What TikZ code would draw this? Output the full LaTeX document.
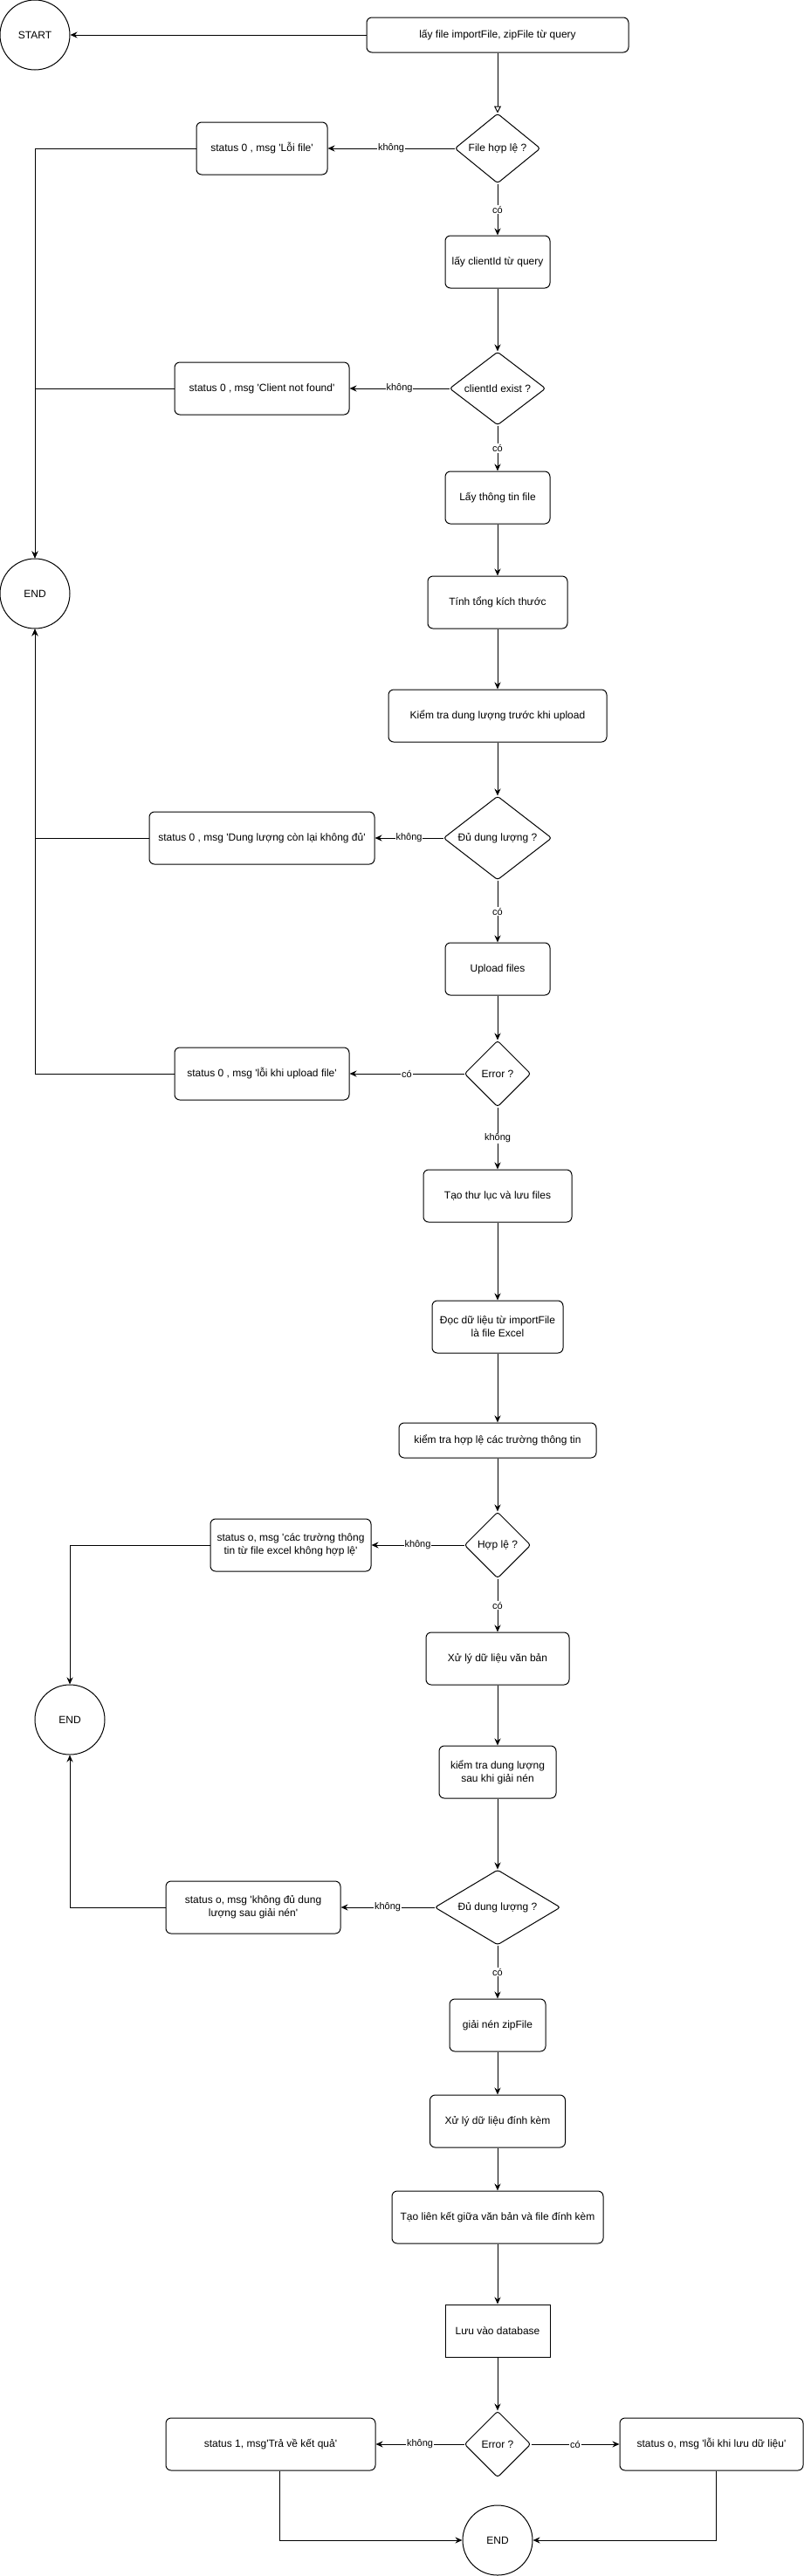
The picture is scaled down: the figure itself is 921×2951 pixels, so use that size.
\documentclass[tikz,border=0pt]{standalone}
\usepackage{fontspec}
\newfontfamily\arialf{Liberation Sans}
\usetikzlibrary{shapes.geometric,arrows.meta}
\tikzset{
 base/.style={draw, line width=1pt, inner sep=0pt, align=center, font=\arialf\fontsize{12}{15}\selectfont},
 box/.style={base, rectangle, rounded corners=6pt},
 sqbox/.style={base, rectangle},
 dec/.style={base, diamond, rounded corners=3pt},
 term/.style={base, circle, minimum size=80pt},
 lab/.style={fill=white, inner sep=1pt, font=\arialf\fontsize{11}{13}\selectfont},
 arr/.style={line width=1pt, -{Stealth[length=8pt,width=7pt]}},
 openarr/.style={line width=1pt, -{Triangle[open,length=8pt,width=8pt]}},
}
\begin{document}
\begin{tikzpicture}[x=1pt,y=-1pt]
\useasboundingbox (0,0) rectangle (921,2951);
% nodes
\node[term] (start) at (40,40) {START};
\node[box, minimum width=300pt, minimum height=40pt] (n1) at (570,40) {lấy file importFile, zipFile từ query};
\node[dec, minimum width=98pt, minimum height=80pt, aspect=1.225] (d1) at (570,170) {File hợp lệ ?};
\node[box, minimum width=150pt, minimum height=60pt] (e1) at (300,170) {status 0 , msg 'Lỗi file'};
\node[box, minimum width=120pt, minimum height=60pt] (n2) at (570,300) {lấy clientId từ query};
\node[dec, minimum width=110pt, minimum height=84pt, aspect=1.3] (d2) at (570,445) {clientId exist ?};
\node[box, minimum width=200pt, minimum height=60pt] (e2) at (300,445) {status 0 , msg 'Client not found'};
\node[box, minimum width=120pt, minimum height=60pt] (n3) at (570,570) {Lấy thông tin file};
\node[term] (end1) at (40,680) {END};
\node[box, minimum width=160pt, minimum height=60pt] (n4) at (570,690) {Tính tổng kích thước};
\node[box, minimum width=250pt, minimum height=60pt] (n5) at (570,820) {Kiểm tra dung lượng trước khi upload};
\node[dec, minimum width=124pt, minimum height=96pt, aspect=1.29] (d3) at (570,960) {Đủ dung lượng ?};
\node[box, minimum width=258pt, minimum height=60pt] (e3) at (300,960) {status 0 , msg 'Dung lượng còn lại không đủ'};
\node[box, minimum width=120pt, minimum height=60pt] (n6) at (570,1110) {Upload files};
\node[dec, minimum width=76pt, minimum height=76pt, aspect=1] (d4) at (570,1230) {Error ?};
\node[box, minimum width=200pt, minimum height=60pt] (e4) at (300,1230) {status 0 , msg 'lỗi khi upload file'};
\node[box, minimum width=170pt, minimum height=60pt] (n7) at (570,1370) {Tạo thư lục và lưu files};
\node[box, minimum width=150pt, minimum height=60pt] (n8) at (570,1520) {Đọc dữ liệu từ importFile\\là file Excel};
\node[box, minimum width=226pt, minimum height=40pt] (n9) at (570,1650) {kiểm tra hợp lệ các trường thông tin};
\node[dec, minimum width=76pt, minimum height=76pt, aspect=1] (d5) at (570,1770) {Hợp lệ ?};
\node[box, minimum width=184pt, minimum height=60pt] (e5) at (333,1770) {status o, msg 'các trường thông\\tin từ file excel không hợp lệ'};
\node[term] (end2) at (80,1970) {END};
\node[box, minimum width=164pt, minimum height=60pt] (n10) at (570,1900) {Xử lý dữ liệu văn bản};
\node[box, minimum width=134pt, minimum height=60pt] (n11) at (570,2030) {kiểm tra dung lượng\\sau khi giải nén};
\node[dec, minimum width=144pt, minimum height=86pt, aspect=1.67] (d6) at (570,2185) {Đủ dung lượng ?};
\node[box, minimum width=200pt, minimum height=60pt] (e6) at (290,2185) {status o, msg 'không đủ dung\\lượng sau giải nén'};
\node[box, minimum width=110pt, minimum height=60pt] (n12) at (570,2320) {giải nén zipFile};
\node[box, minimum width=155pt, minimum height=60pt] (n13) at (570,2430) {Xử lý dữ liệu đính kèm};
\node[box, minimum width=242pt, minimum height=60pt] (n14) at (570,2540) {Tạo liên kết giữa văn bản và file đính kèm};
\node[sqbox, minimum width=120pt, minimum height=60pt] (n15) at (570,2670) {Lưu vào database};
\node[dec, minimum width=76pt, minimum height=76pt, aspect=1] (d7) at (570,2800) {Error ?};
\node[box, minimum width=240pt, minimum height=60pt] (e7) at (310,2800) {status 1, msg'Trả về kết quả'};
\node[box, minimum width=210pt, minimum height=60pt] (e8) at (815,2800) {status o, msg 'lỗi khi lưu dữ liệu'};
\node[term] (end3) at (570,2910) {END};
% edges
\draw[arr] (n1) -- (start);
\draw[openarr] (n1) -- (d1);
\draw[arr] (d1) -- node[lab]{không} (e1);
\draw[arr] (d1) -- node[lab]{có} (n2);
\draw[arr] (e1.west) -| (end1.north);
\draw[arr] (n2) -- (d2);
\draw[arr] (d2) -- node[lab]{không} (e2);
\draw[arr] (e2.west) -| (end1.north);
\draw[arr] (d2) -- node[lab]{có} (n3);
\draw[arr] (n3) -- (n4);
\draw[arr] (n4) -- (n5);
\draw[arr] (n5) -- (d3);
\draw[arr] (d3) -- node[lab]{không} (e3);
\draw[arr] (e3.west) -| (end1.south);
\draw[arr] (d3) -- node[lab]{có} (n6);
\draw[arr] (n6) -- (d4);
\draw[arr] (d4) -- node[lab]{có} (e4);
\draw[arr] (e4.west) -| (end1.south);
\draw[arr] (d4) -- node[lab]{không} (n7);
\draw[arr] (n7) -- (n8);
\draw[arr] (n8) -- (n9);
\draw[arr] (n9) -- (d5);
\draw[arr] (d5) -- node[lab]{không} (e5);
\draw[arr] (e5.west) -| (end2.north);
\draw[arr] (d5) -- node[lab]{có} (n10);
\draw[arr] (n10) -- (n11);
\draw[arr] (n11) -- (d6);
\draw[arr] (d6) -- node[lab]{không} (e6);
\draw[arr] (e6.west) -| (end2.south);
\draw[arr] (d6) -- node[lab]{có} (n12);
\draw[arr] (n12) -- (n13);
\draw[arr] (n13) -- (n14);
\draw[arr] (n14) -- (n15);
\draw[arr] (n15) -- (d7);
\draw[arr] (d7) -- node[lab]{không} (e7);
\draw[arr] (d7) -- node[lab]{có} (e8);
\draw[arr] ([xshift=10pt]e7.south) |- (end3.west);
\draw[arr] ([xshift=5pt]e8.south) |- (end3.east);
\end{tikzpicture}
\end{document}
